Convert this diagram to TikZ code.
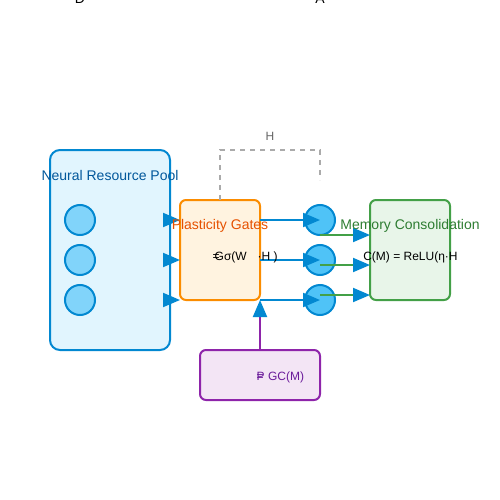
\documentclass[tikz,border=0pt]{standalone}
\usepackage{fontspec}
\setmainfont{Liberation Sans}
\usetikzlibrary{arrows.meta}
\definecolor{poolfill}{HTML}{E1F5FE}
\definecolor{blueline}{HTML}{0288D1}
\definecolor{pooltext}{HTML}{01579B}
\definecolor{cfill}{HTML}{81D4FA}
\definecolor{mfill}{HTML}{4FC3F7}
\definecolor{gfill}{HTML}{FFF3E0}
\definecolor{gline}{HTML}{FB8C00}
\definecolor{gtext}{HTML}{E65100}
\definecolor{mcfill}{HTML}{E8F5E9}
\definecolor{mcline}{HTML}{43A047}
\definecolor{mctext}{HTML}{2E7D32}
\definecolor{pfill}{HTML}{F3E5F5}
\definecolor{pline}{HTML}{8E24AA}
\definecolor{ptext}{HTML}{6A1B9A}
\definecolor{dashgray}{HTML}{AAAAAA}
\definecolor{labgray}{HTML}{666666}
\tikzset{
  box/.style={rectangle, line width=2pt, inner sep=0pt, outer sep=0pt},
  neuron/.style={circle, draw=blueline, line width=2pt, minimum size=30pt, inner sep=0pt, outer sep=0pt},
  txtbig/.style={inner sep=0pt, anchor=base, font=\fontsize{14}{16}\selectfont},
  txtsmall/.style={inner sep=0pt, anchor=base, font=\fontsize{12}{14}\selectfont},
  barrow/.style={line width=2pt, -{Triangle[length=17pt,width=14pt,color=blueline]}},
}
\begin{document}
\begin{tikzpicture}[x=1pt,y=-1pt]
\useasboundingbox (0,0) rectangle (500,500);
% boxes
\node[box, draw=blueline, fill=poolfill, rounded corners=10pt, minimum width=120pt, minimum height=200pt] (pool) at (110,250) {};
\node[box, draw=gline, fill=gfill, rounded corners=6pt, minimum width=80pt, minimum height=100pt] (gates) at (220,250) {};
\node[box, draw=mcline, fill=mcfill, rounded corners=6pt, minimum width=80pt, minimum height=100pt] (mem) at (410,250) {};
\node[box, draw=pline, fill=pfill, rounded corners=6pt, minimum width=120pt, minimum height=50pt] (fb) at (260,375) {};
% pool neurons
\node[neuron, fill=cfill] (p1) at (80,220) {};
\node[neuron, fill=cfill] (p2) at (80,260) {};
\node[neuron, fill=cfill] (p3) at (80,300) {};
% middle neurons
\node[neuron, fill=mfill] (m1) at (320,220) {};
\node[neuron, fill=mfill] (m2) at (320,260) {};
\node[neuron, fill=mfill] (m3) at (320,300) {};
% dashed feedback H
\coordinate (dend) at (320,180);
\draw[dashgray, line width=2pt, dash pattern=on 5pt off 5pt] (gates.north) -- (220,150) -- (320,150) -- (dend);
\node[txtsmall, text=labgray] (hlab) at (270,140) {H};
% pool -> gates
\foreach \i/\y in {1/220,2/260,3/300}{
  \coordinate (ps\i) at (163,\y);
  \draw[barrow, draw=blueline] (ps\i) -- (gates.west |- ps\i);
}
% gates -> middle neurons
\draw[barrow, draw=blueline] (gates.east |- m1) -- (m1.center);
\draw[barrow, draw=blueline] (gates.east |- m2) -- (m2.center);
\draw[barrow, draw=blueline] (gates.east |- m3) -- (m3.center);
% middle -> memory (green lines, blue heads)
\foreach \i/\y in {1/235,2/265,3/295}{
  \coordinate (ms\i) at (320,\y);
  \draw[barrow, draw=mcline] (ms\i) -- (mem.west |- ms\i);
}
% feedback -> gates
\draw[barrow, draw=pline] (fb.north) -- (fb.north |- gates.south);
% texts
\node[txtbig, text=pooltext] (tpool) at (110,180) {Neural Resource Pool};
\node[txtbig, text=gtext] (tgates) at (220,229) {Plasticity Gates};
\node[txtbig, text=mctext] (tmem) at (410,229) {Memory Consolidation};
\node[txtsmall, anchor=base west] (fg1) at (212.5,260) {\rlap{=}\kern2pt Gσ(W};
\node[txtsmall, anchor=base west] (fg2) at (257.5,260) {·H )};
\node[txtsmall] (fm) at (410.5,260) {C(M) = ReLU(η·H};
\node[txtsmall, anchor=base west, text=ptext] (fp) at (256.5,380) {\rlap{=}P GC(M)};
\node[txtbig] (tD) at (80,4) {D};
\node[txtbig] (tA) at (320,4) {A};
\end{tikzpicture}
\end{document}
